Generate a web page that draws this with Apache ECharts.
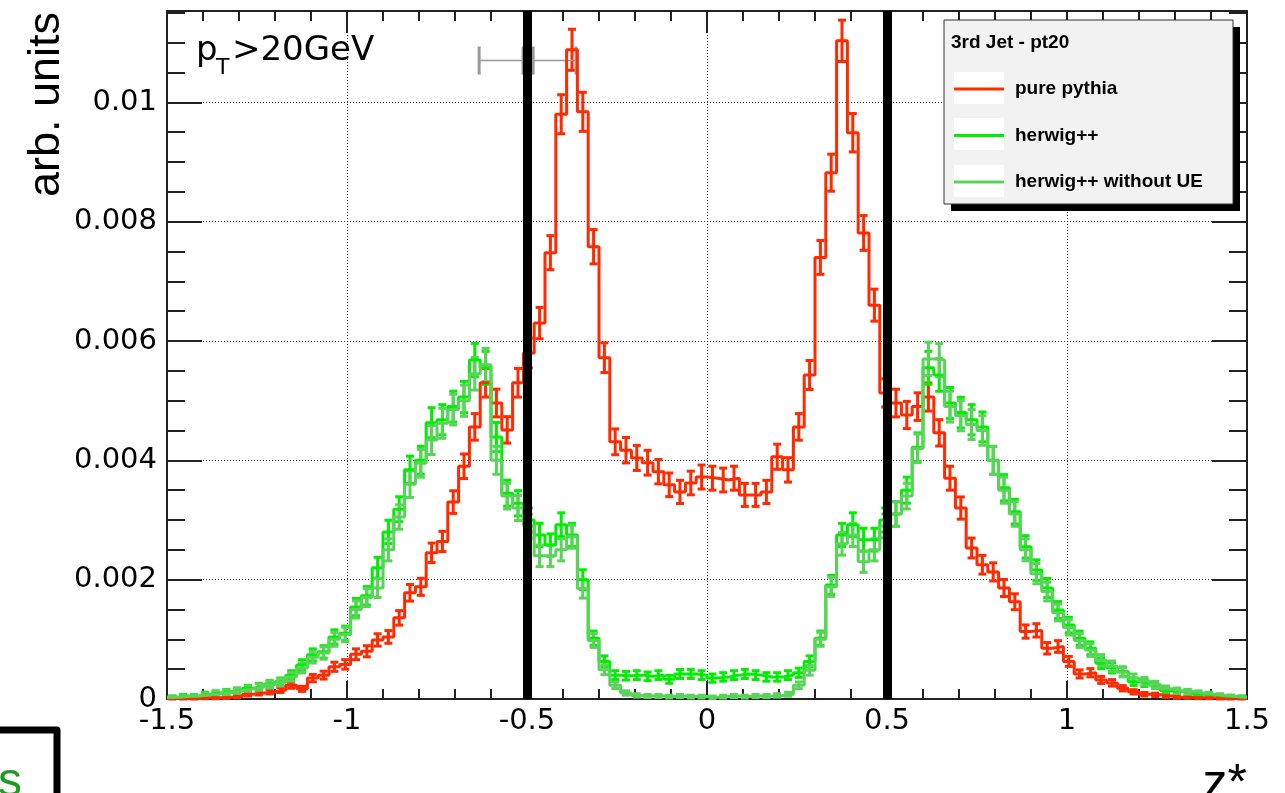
<!DOCTYPE html>
<html>
<head>
<meta charset="utf-8">
<script src="https://cdn.jsdelivr.net/npm/echarts@6/dist/echarts.min.js"></script>
<style>
  html, body { margin: 0; padding: 0; background: #fff; }
  #chart { width: 1285px; height: 793px; }
</style>
</head>
<body>
<div id="chart"></div>
<script>
// binning of z* : 100 bins from -1.5 to 1.5
const X_MIN = -1.5;
const X_MAX = 1.5;
const BIN_W = 0.03;
const Y_MAX = 0.01153;

const xTicks = [-1.5, -1, -0.5, 0, 0.5, 1, 1.5];
const cuts = [-0.5, 0.5];

const seriesNames = ['pure pythia', 'herwig++', 'herwig++ without UE'];

const pythia = [
  0.00001, 0.00001, 0.00001, 0.00002, 0.00002, 0.00003, 0.00004, 0.00008, 0.0001, 0.00012,
  0.00015, 0.00023, 0.00017, 0.00035, 0.0004, 0.00054, 0.00058, 0.00075, 0.0008, 0.00099,
  0.00104, 0.00136, 0.00178, 0.00188, 0.00245, 0.00264, 0.0033, 0.0039, 0.00456, 0.0053,
  0.00496, 0.00451, 0.0053, 0.0058, 0.0063, 0.00748, 0.0098, 0.01088, 0.00984, 0.00758,
  0.00572, 0.00431, 0.00417, 0.00404, 0.00396, 0.00381, 0.00359, 0.00347, 0.00362, 0.00372,
  0.0037, 0.00367, 0.0037, 0.00342, 0.00342, 0.00347, 0.00406, 0.00384, 0.00456, 0.00543,
  0.0074, 0.00882, 0.01103, 0.00949, 0.00781, 0.0066, 0.00513, 0.00496, 0.00476, 0.0049,
  0.00506, 0.00446, 0.0037, 0.0032, 0.00253, 0.00225, 0.00213, 0.00186, 0.00163, 0.00113,
  0.00115, 0.00085, 0.00088, 0.00063, 0.00042, 0.00044, 0.00032, 0.00027, 0.00018, 0.00012,
  0.00008, 0.00007, 0.00005, 0.00003, 0.00003, 0.00002, 0.00002, 0.00001, 0.00001, 0.00001
];

const herwig = [
  0.00003, 0.00005, 0.00005, 0.00008, 0.0001, 0.00012, 0.00014, 0.00018, 0.00021, 0.00025,
  0.00029, 0.0004, 0.00057, 0.00074, 0.00079, 0.00104, 0.0011, 0.00154, 0.00173, 0.0022,
  0.0028, 0.00318, 0.00384, 0.004, 0.00463, 0.00468, 0.0049, 0.00506, 0.00568, 0.00555,
  0.00439, 0.00345, 0.00328, 0.003, 0.00275, 0.00258, 0.00292, 0.00275, 0.002, 0.00102,
  0.00063, 0.0004, 0.00039, 0.0004, 0.00038, 0.0004, 0.00033, 0.00042, 0.00042, 0.0004,
  0.00035, 0.00037, 0.0004, 0.00042, 0.0004, 0.00037, 0.00037, 0.0004, 0.00044, 0.00063,
  0.00102, 0.00191, 0.00275, 0.00292, 0.00267, 0.00267, 0.003, 0.0031, 0.0035, 0.00422,
  0.00555, 0.00543, 0.00496, 0.0048, 0.00468, 0.00456, 0.004, 0.00354, 0.00314, 0.00255,
  0.00216, 0.00186, 0.00149, 0.00124, 0.00102, 0.00085, 0.0006, 0.00052, 0.00046, 0.00029,
  0.00027, 0.00023, 0.00014, 0.00013, 0.00012, 0.00008, 0.00007, 0.00005, 0.00004, 0.00003
];

const herwigNoUE = [
  0.00003, 0.00004, 0.00005, 0.00007, 0.00009, 0.00011, 0.00014, 0.00017, 0.0002, 0.00024,
  0.00028, 0.00037, 0.00052, 0.0007, 0.00077, 0.001, 0.00108, 0.0015, 0.0017, 0.00186,
  0.0025, 0.00305, 0.0036, 0.00395, 0.00434, 0.00462, 0.00485, 0.005, 0.00545, 0.0056,
  0.004, 0.0034, 0.0032, 0.0029, 0.0024, 0.0024, 0.0025, 0.00272, 0.00185, 0.00098,
  0.00049, 0.00023, 0.0001, 0.00006, 0.00005, 0.00005, 0.00004, 0.00005, 0.00004, 0.00004,
  0.00003, 0.00004, 0.00005, 0.00004, 0.00005, 0.00005, 0.00006, 0.00008, 0.00023, 0.00048,
  0.001, 0.00188, 0.0026, 0.00275, 0.0023, 0.0025, 0.0029, 0.0031, 0.0034, 0.0042,
  0.0057, 0.00568, 0.0049, 0.00475, 0.0046, 0.0045, 0.004, 0.0035, 0.0031, 0.0025,
  0.0021, 0.0018, 0.00145, 0.0012, 0.00098, 0.00082, 0.00065, 0.00055, 0.00045, 0.00035,
  0.0003, 0.00024, 0.00017, 0.00014, 0.00012, 0.0001, 0.00008, 0.00006, 0.00004, 0.00003
];

// poisson-like error scale per sample (err = k * sqrt(content))
const errScale = [0.0033, 0.0037, 0.0037];

// stray grey horizontal error marker near the top
const markerX = [-0.633, -0.511, -0.483, -0.364];
const markerY = 0.0107;

const colors = ['#ff2a00', '#00ee00', '#5ad35a'];

// histogram as step line: one point per left bin edge + closing right edge
const stepData = (vals) => {
  const d = vals.map((v, i) => [X_MIN + i * BIN_W, v]);
  d.push([X_MIN + vals.length * BIN_W, vals[vals.length - 1]]);
  return d;
};
const errData = (vals, k) => vals.map((v, i) => [X_MIN + (i + 0.5) * BIN_W, v, k * Math.sqrt(v)]);

const errRender = (color) => (params, api) => {
  const x = api.value(0), v = api.value(1), e = api.value(2);
  const top = api.coord([x, v + e]);
  const bot = api.coord([x, Math.max(v - e, 0)]);
  const hw = 4;
  const st = { stroke: color, lineWidth: 3 };
  return {
    type: 'group',
    children: [
      { type: 'line', shape: { x1: top[0], y1: top[1], x2: bot[0], y2: bot[1] }, style: st },
      { type: 'line', shape: { x1: top[0] - hw, y1: top[1], x2: top[0] + hw, y2: top[1] }, style: st },
      { type: 'line', shape: { x1: bot[0] - hw, y1: bot[1], x2: bot[0] + hw, y2: bot[1] }, style: st }
    ]
  };
};

const histSets = [pythia, herwig, herwigNoUE];
const series = [];
histSets.forEach((vals, i) => {
  series.push({
    name: seriesNames[i],
    type: 'line',
    step: 'end',
    data: stepData(vals),
    showSymbol: false,
    color: colors[i],
    lineStyle: { color: colors[i], width: 3 },
    silent: true
  });
  series.push({
    name: seriesNames[i] + ' err',
    type: 'custom',
    data: errData(vals, errScale[i]),
    encode: { x: 0, y: 1 },
    renderItem: errRender(colors[i]),
    silent: true
  });
});

series.push({
  name: 'marker',
  type: 'custom',
  data: markerX.map((x) => [x, markerY]),
  encode: { x: 0, y: 1 },
  silent: true,
  renderItem: (params, api) => {
    const p = api.coord([api.value(0), api.value(1)]);
    const kids = [
      { type: 'line', shape: { x1: p[0], y1: p[1] - 14, x2: p[0], y2: p[1] + 14 }, style: { stroke: '#999', lineWidth: 3 } }
    ];
    const j = params.dataIndex;
    if (j < markerX.length - 1) {
      const q = api.coord([markerX[j + 1], markerY]);
      kids.push({ type: 'line', shape: { x1: p[0], y1: p[1], x2: q[0], y2: q[1] }, style: { stroke: '#999', lineWidth: 1.5 } });
    }
    return { type: 'group', children: kids };
  }
});

series.push({
  name: 'cuts',
  type: 'line',
  data: [],
  z: 5,
  silent: true,
  markLine: {
    silent: true,
    symbol: 'none',
    label: { show: false },
    lineStyle: { color: '#000', width: 9, type: 'solid' },
    data: cuts.map((x) => ({ xAxis: x }))
  }
});

const axisCol = '#222';
const tickStyle = { color: axisCol, width: 2 };
const gridDots = { color: '#333', width: 1, type: [1, 2] };
const labelFont = { fontFamily: 'DejaVu Sans', fontSize: 29, color: '#000' };

const yBase = { type: 'value', min: 0, max: Y_MAX };
const xBase = { type: 'value', min: X_MIN, max: X_MAX, interval: 0.5 };

const chart = echarts.init(document.getElementById('chart'));
chart.setOption({
  animation: false,
  backgroundColor: '#fff',
  grid: { left: 167, right: 38, top: 11, bottom: 94, outerBoundsMode: 'none' },
  xAxis: [
    Object.assign({}, xBase, {
      position: 'bottom',
      axisLine: { show: true, onZero: false, lineStyle: tickStyle },
      axisTick: { inside: true, length: 18, lineStyle: tickStyle },
      minorTick: { show: true, splitNumber: 5, length: 10, lineStyle: tickStyle },
      axisLabel: Object.assign({ margin: 8, formatter: (v) => String(xTicks.find((t) => Math.abs(t - v) < 1e-9) ?? v) }, labelFont),
      splitLine: { show: true, lineStyle: gridDots }
    }),
    Object.assign({}, xBase, {
      position: 'top',
      axisLine: { show: true, onZero: false, lineStyle: tickStyle },
      axisTick: { inside: true, length: 22, lineStyle: tickStyle },
      minorTick: { show: true, splitNumber: 5, length: 10, lineStyle: tickStyle },
      axisLabel: { show: false },
      splitLine: { show: false }
    })
  ],
  yAxis: [
    Object.assign({}, yBase, {
      position: 'left',
      interval: 0.002,
      axisLine: { show: true, onZero: false, lineStyle: tickStyle },
      axisTick: { inside: true, length: 35, lineStyle: tickStyle },
      axisLabel: Object.assign({ margin: 10, showMaxLabel: false }, labelFont),
      splitLine: { show: true, lineStyle: gridDots }
    }),
    Object.assign({}, yBase, {
      position: 'left',
      interval: 0.0005,
      axisLine: { show: false, onZero: false },
      axisTick: { inside: true, length: 18, lineStyle: tickStyle },
      axisLabel: { show: false },
      splitLine: { show: false }
    }),
    Object.assign({}, yBase, {
      position: 'right',
      interval: 0.002,
      axisLine: { show: true, onZero: false, lineStyle: tickStyle },
      axisTick: { inside: true, length: 35, lineStyle: tickStyle },
      axisLabel: { show: false },
      splitLine: { show: false }
    }),
    Object.assign({}, yBase, {
      position: 'right',
      interval: 0.0005,
      axisLine: { show: false, onZero: false },
      axisTick: { inside: true, length: 18, lineStyle: tickStyle },
      axisLabel: { show: false },
      splitLine: { show: false }
    })
  ],
  legend: {
    data: seriesNames,
    orient: 'vertical',
    left: 954,
    top: 78,
    padding: 0,
    itemWidth: 50,
    itemHeight: 3,
    itemGap: 24.5,
    icon: 'rect',
    selectedMode: false,
    textStyle: {
      fontFamily: 'Liberation Sans',
      fontWeight: 'bold',
      fontSize: 19,
      lineHeight: 22,
      color: '#000',
      padding: [0, 0, 0, 6]
    }
  },
  graphic: {
    elements: [
      // legend frame with hard shadow
      { type: 'rect', z: 1, shape: { x: 951, y: 27, width: 289, height: 184 }, style: { fill: '#000' } },
      { type: 'rect', z: 1, shape: { x: 944, y: 20, width: 289, height: 184 }, style: { fill: '#f2f2f2', stroke: '#333', lineWidth: 1 } },
      { type: 'rect', z: 1, shape: { x: 954, y: 72, width: 50, height: 32 }, style: { fill: '#fff' } },
      { type: 'rect', z: 1, shape: { x: 954, y: 118, width: 50, height: 32 }, style: { fill: '#fff' } },
      { type: 'rect', z: 1, shape: { x: 954, y: 165, width: 50, height: 32 }, style: { fill: '#fff' } },
      { type: 'text', z: 1, x: 951, y: 43, style: { text: '3rd Jet - pt20', font: 'bold 19px "Liberation Sans"', fill: '#000', verticalAlign: 'middle' } },
      // pT cut label
      { type: 'text', z: 3, x: 196, y: 51, style: { text: 'p', font: '34px "DejaVu Sans"', fill: '#000', verticalAlign: 'middle' } },
      { type: 'text', z: 3, x: 216, y: 68, style: { text: 'T', font: '22px "DejaVu Sans"', fill: '#000', verticalAlign: 'middle' } },
      { type: 'text', z: 3, x: 232, y: 51, style: { text: '>20GeV', font: '34px "DejaVu Sans"', fill: '#000', verticalAlign: 'middle' } },
      // axis titles
      { type: 'text', x: 69, y: 12, rotation: Math.PI / 2, style: { text: 'arb. units', font: '45px "Liberation Sans"', fill: '#000', align: 'right', verticalAlign: 'bottom' } },
      { type: 'text', x: 1247, y: 785, style: { text: 'z*', font: '50px "Liberation Sans"', fill: '#000', align: 'right', verticalAlign: 'middle' } },
      // cropped slide artefact, bottom left
      { type: 'polyline', shape: { points: [[-5, 730], [57, 730], [57, 800]] }, style: { stroke: '#000', lineWidth: 7, lineJoin: 'round', fill: null } },
      { type: 'text', x: -2, y: 783, style: { text: 's', font: '48px "Liberation Sans"', fill: '#1f9b1f', verticalAlign: 'middle' } }
    ]
  },
  series: series
});
</script>
</body>
</html>
